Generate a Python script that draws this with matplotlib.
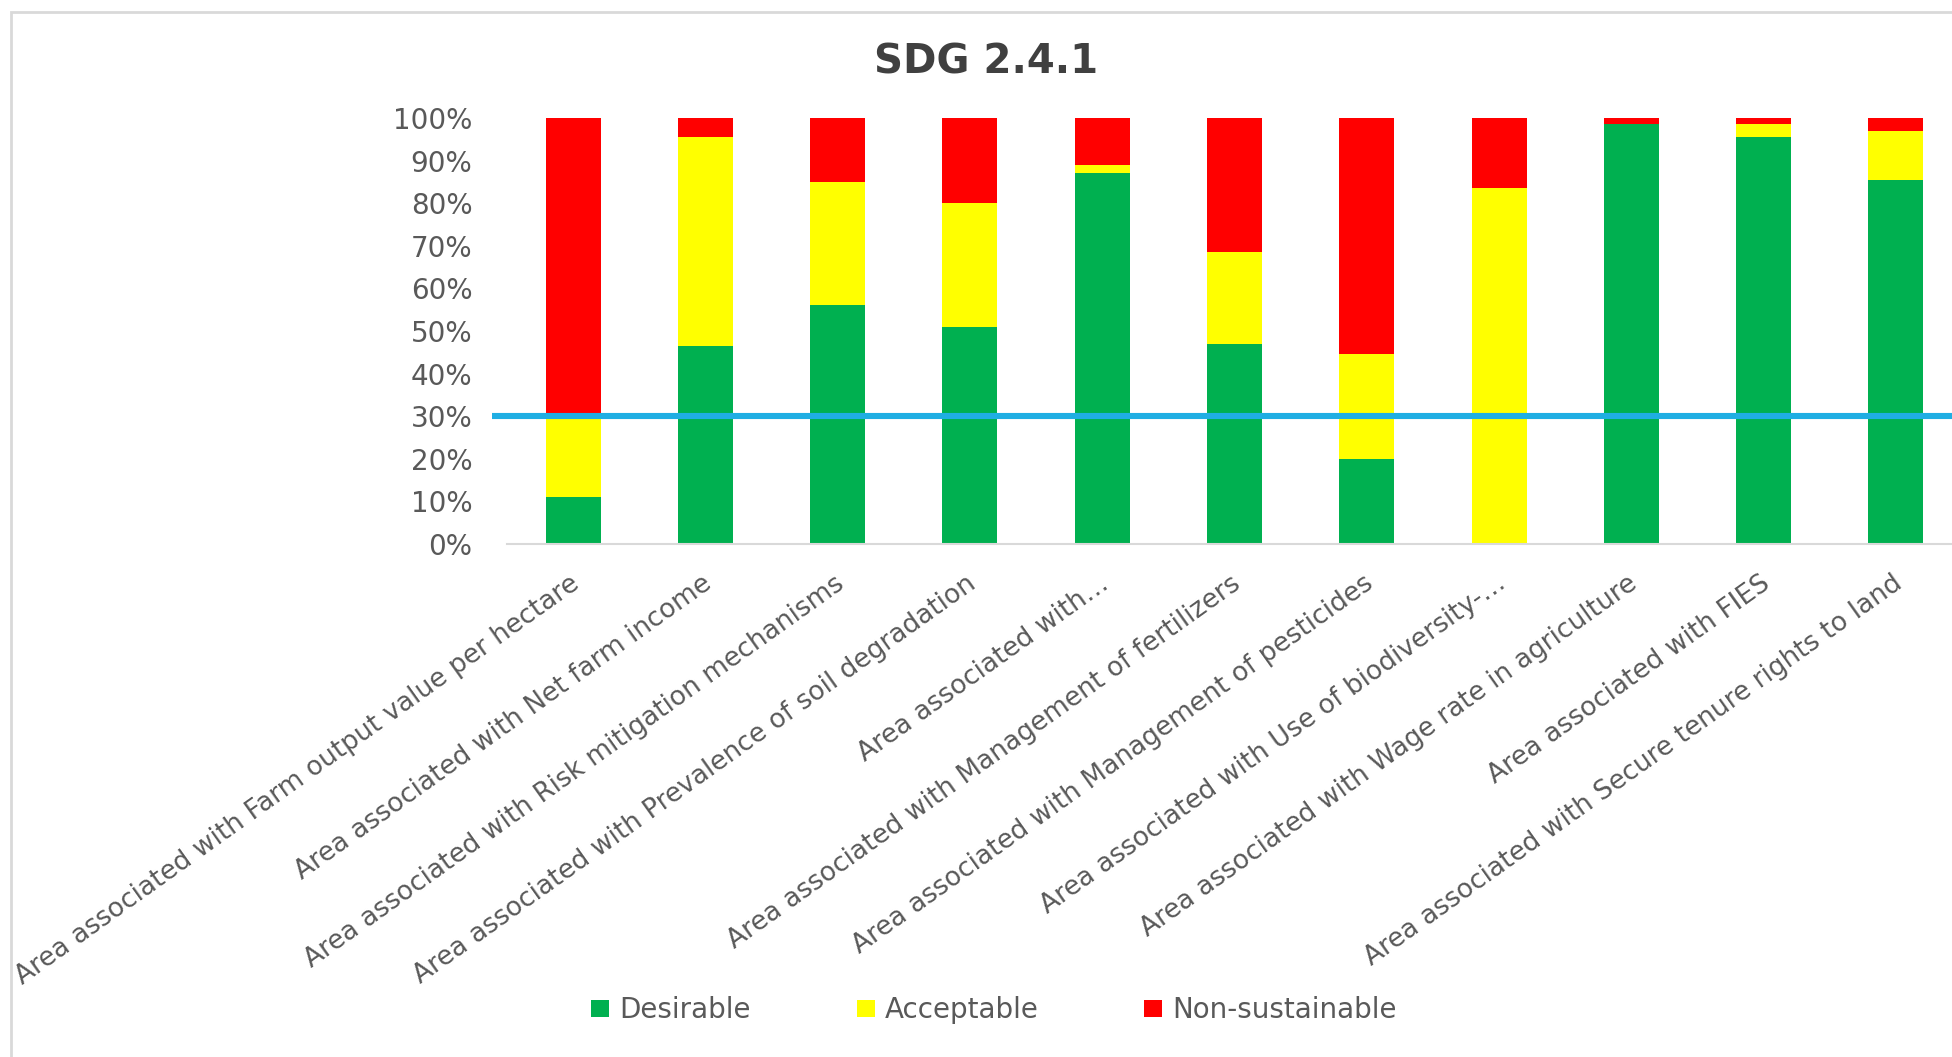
import matplotlib
matplotlib.use("Agg")
import matplotlib.pyplot as plt
import matplotlib.transforms as mtransforms
from matplotlib.patches import Patch, Rectangle
import numpy as np

# ---- data ----
categories = [
    "Area associated with Farm output value per hectare",
    "Area associated with Net farm income",
    "Area associated with Risk mitigation mechanisms",
    "Area associated with Prevalence of soil degradation",
    "Area associated with\u2026",
    "Area associated with Management of fertilizers",
    "Area associated with Management of pesticides",
    "Area associated with Use of biodiversity-\u2026",
    "Area associated with Wage rate in agriculture",
    "Area associated with FIES",
    "Area associated with Secure tenure rights to land",
]
desirable = [11.0, 46.5, 56.0, 51.0, 87.0, 47.0, 20.0, 0.0, 98.5, 95.5, 85.5]
acceptable = [19.0, 49.0, 29.0, 29.0, 2.0, 21.5, 24.5, 83.5, 0.0, 3.2, 11.5]
non_sustainable = [70.0, 4.5, 15.0, 20.0, 11.0, 31.5, 55.5, 16.5, 1.5, 1.3, 3.0]
series_names = ["Desirable", "Acceptable", "Non-sustainable"]
threshold = 30.0
title = "SDG 2.4.1"
yticks = [0, 10, 20, 30, 40, 50, 60, 70, 80, 90, 100]

# ---- style ----
GREEN, YELLOW, RED = "#00B050", "#FFFF00", "#FF0000"
BLUE = "#1FAEE3"
TXT = "#595959"
plt.rcParams["font.family"] = ["DejaVu Sans"]

W, H = 1952, 1057
fig = plt.figure(figsize=(W / 100, H / 100), dpi=100)
fig.patch.set_facecolor("white")

# chart border (extends beyond right and bottom edges)
fig.patches.append(Rectangle((11 / W, -0.2), 1.5, (1 - 12 / H) + 0.2,
                             transform=fig.transFigure, fill=False,
                             edgecolor="#D9D9D9", linewidth=2.0, zorder=0))

ax_left, ax_right = 507, 1962
ax_top, ax_bottom = 118, 544
ax = fig.add_axes([ax_left / W, 1 - ax_bottom / H,
                   (ax_right - ax_left) / W, (ax_bottom - ax_top) / H])

x = np.arange(len(categories))
d = np.array(desirable) / 100
a = np.array(acceptable) / 100
n = np.array(non_sustainable) / 100
tot = d + a + n
d, a, n = d / tot, a / tot, n / tot
bw = 0.416
ax.bar(x, d, bw, color=GREEN, zorder=2)
ax.bar(x, a, bw, bottom=d, color=YELLOW, zorder=2)
ax.bar(x, n, bw, bottom=d + a, color=RED, zorder=2)

ax.set_xlim(-0.5, len(categories) - 0.5)
ax.set_ylim(0, 1)

# threshold line
ax.plot([-0.5 - 15 / 132.3, len(categories) + 1], [threshold / 100] * 2,
        color=BLUE, linewidth=4.4, clip_on=False, zorder=3,
        solid_capstyle="butt")

for s in ["top", "right", "left"]:
    ax.spines[s].set_visible(False)
ax.spines["bottom"].set_color("#D9D9D9")
ax.spines["bottom"].set_linewidth(1.5)

ax.set_yticks([v / 100 for v in yticks])
ax.set_yticklabels([f"{v}%" for v in yticks])
ax.tick_params(axis="y", length=0, pad=25, labelsize=20, labelcolor=TXT)
ax.set_xticks(x)
ax.set_xticklabels(categories, rotation=35.5, ha="right", va="top",
                   rotation_mode="anchor")
ax.tick_params(axis="x", length=0, pad=19, labelsize=19, labelcolor=TXT)
off = mtransforms.ScaledTranslation(-4 / 100, 0, fig.dpi_scale_trans)
for lab in ax.get_xticklabels():
    lab.set_transform(lab.get_transform() + off)

fig.text(986 / W, 1 - 62 / H, title, ha="center", va="center",
         fontsize=29, fontweight="bold", color="#404040")

handles = [Patch(facecolor=c, edgecolor="none") for c in (GREEN, YELLOW, RED)]
fig.legend(handles, series_names, loc="center", ncol=3,
           bbox_to_anchor=(994 / W, 1 - 1010 / H), frameon=False,
           fontsize=20, labelcolor=TXT, handlelength=0.65, handleheight=0.58,
           handletextpad=0.36, columnspacing=3.8)

fig.savefig("out.png", dpi=100, facecolor="white")
